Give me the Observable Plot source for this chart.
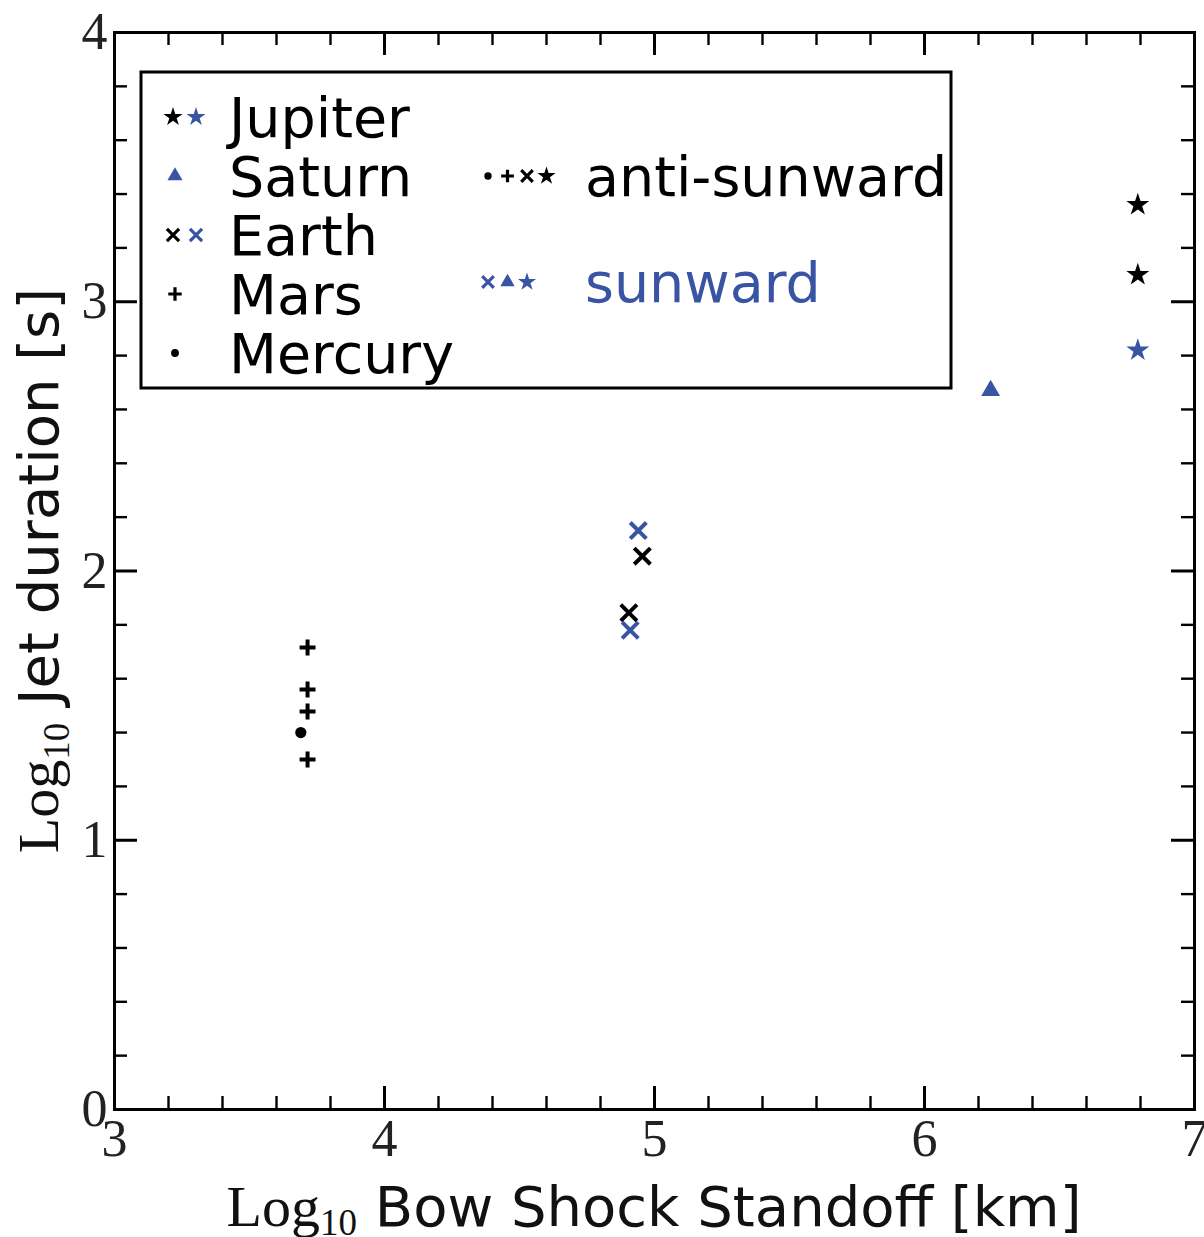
<!DOCTYPE html>
<html>
<head>
<meta charset="utf-8">
<script src="https://cdn.jsdelivr.net/npm/d3@7"></script>
<script src="https://cdn.jsdelivr.net/npm/@observablehq/plot@0.6"></script>
<style>
  html, body { margin: 0; padding: 0; background: #fff; }
  #chart svg { display: block; }
</style>
</head>
<body>
<div id="chart"></div>
<script>
// ---- data ----
const planets   = ["Jupiter","Jupiter","Jupiter","Saturn","Earth","Earth","Earth","Earth","Mars","Mars","Mars","Mars","Mercury"];
const standoff  = [6.79, 6.79, 6.79, 6.245, 4.94, 4.955, 4.905, 4.91, 3.715, 3.715, 3.715, 3.715, 3.69];
const duration  = [3.36, 3.10, 2.82, 2.67, 2.15, 2.055, 1.845, 1.78, 1.716, 1.56, 1.478, 1.30, 1.40];
const direction = ["anti","anti","sun","sun","sun","anti","anti","sun","anti","anti","anti","anti","anti"];

const xMajor = [3, 4, 5, 6, 7];
const xMinor = [3.2, 3.4, 3.6, 3.8, 4.2, 4.4, 4.6, 4.8, 5.2, 5.4, 5.6, 5.8, 6.2, 6.4, 6.6, 6.8];
const yMajor = [0, 1, 2, 3, 4];
const yMinor = [0.2, 0.4, 0.6, 0.8, 1.2, 1.4, 1.6, 1.8, 2.2, 2.4, 2.6, 2.8, 3.2, 3.4, 3.6, 3.8];

const planetOrder = ["Jupiter", "Saturn", "Earth", "Mars", "Mercury"];
const planetSymbol = {Jupiter: "star", Saturn: "triangle", Earth: "times", Mars: "plus", Mercury: "circle"};
const BLUE = "#3a54a4";
const dirColor = {anti: "#000000", sun: BLUE};

const rows = planets.map((p, i) => ({planet: p, x: standoff[i], y: duration[i], dir: direction[i]}));

// ---- layout ----
const W = 1204, H = 1237;
const mL = 114, mR = 10, mT = 32, mB = 128;
const fw = W - mL - mR, fh = H - mT - mB;
const major = 23, minor = 13;
const serif = "'Liberation Serif', 'DejaVu Serif', serif";
const sans = "'DejaVu Sans', sans-serif";

const sizeFor = {Jupiter: 7.2, Saturn: 7.0, Earth: 7.4, Mars: 5.2, Mercury: 5.6};

const dotMarks = planetOrder.map(p => {
  const sym = planetSymbol[p];
  const stroked = sym === "plus" || sym === "times";
  const data = rows.filter(d => d.planet === p);
  return Plot.dot(data, stroked
    ? {x: "x", y: "y", symbol: () => sym, r: sizeFor[p], stroke: d => dirColor[d.dir], fill: "none", strokeWidth: 4}
    : {x: "x", y: "y", symbol: () => sym, r: sizeFor[p], fill: d => dirColor[d.dir], stroke: "none"});
});

const chart = Plot.plot({
  width: W, height: H,
  marginLeft: mL, marginRight: mR, marginTop: mT, marginBottom: mB,
  x: {domain: [3, 7]},
  y: {domain: [0, 4]},
  symbol: {type: "identity"},
  color: {type: "identity"},
  style: {background: "#fff"},
  marks: [
    // inward ticks, all four sides
    Plot.tickX(xMinor, {x: d => d, insetTop: fh - minor, stroke: "#000", strokeWidth: 2.4}),
    Plot.tickX(xMinor, {x: d => d, insetBottom: fh - minor, stroke: "#000", strokeWidth: 2.4}),
    Plot.tickX(xMajor, {x: d => d, insetTop: fh - major, stroke: "#000", strokeWidth: 3}),
    Plot.tickX(xMajor, {x: d => d, insetBottom: fh - major, stroke: "#000", strokeWidth: 3}),
    Plot.tickY(yMinor, {y: d => d, insetRight: fw - minor, stroke: "#000", strokeWidth: 2.4}),
    Plot.tickY(yMinor, {y: d => d, insetLeft: fw - minor, stroke: "#000", strokeWidth: 2.4}),
    Plot.tickY(yMajor, {y: d => d, insetRight: fw - major, stroke: "#000", strokeWidth: 3}),
    Plot.tickY(yMajor, {y: d => d, insetLeft: fw - major, stroke: "#000", strokeWidth: 3}),
    Plot.frame({stroke: "#000", strokeWidth: 3}),
    Plot.axisX({ticks: xMajor, tickFormat: d3.format("d"), tickSize: 0, tickPadding: 10, label: null, fontSize: 52, fontFamily: serif, fill: "#222"}),
    Plot.axisY({ticks: yMajor, tickFormat: d3.format("d"), tickSize: 0, tickPadding: 7, label: null, fontSize: 52, fontFamily: serif, fill: "#222"}),
    ...dotMarks
  ]
});

document.getElementById("chart").appendChild(chart);

// ---- axis labels with mixed fonts ----
const svg = d3.select(chart);
const xs = chart.scale("x"), ys = chart.scale("y");
const cx = (xs.range[0] + xs.range[1]) / 2;
const cy = (ys.range[0] + ys.range[1]) / 2;

const xl = svg.append("text")
  .attr("x", cx).attr("y", H - 11)
  .attr("text-anchor", "middle").attr("fill", "#111");
xl.append("tspan").attr("font-family", serif).attr("font-size", 58).text("Log");
xl.append("tspan").attr("font-family", serif).attr("font-size", 37).attr("dy", 9).text("10");
xl.append("tspan").attr("font-family", sans).attr("font-size", 56).attr("dy", -9).text(" Bow Shock Standoff [km]");

const yl = svg.append("text")
  .attr("transform", `translate(${mL - 56},${cy}) rotate(-90)`)
  .attr("text-anchor", "middle").attr("fill", "#111");
yl.append("tspan").attr("font-family", serif).attr("font-size", 58).text("Log");
yl.append("tspan").attr("font-family", serif).attr("font-size", 37).attr("dy", 11).text("10");
yl.append("tspan").attr("font-family", sans).attr("font-size", 56).attr("dy", -11).text(" Jet duration [s]");

// ---- legend ----
const lg = svg.append("g").attr("text-anchor", "start");
const bx = mL + 27, by = mT + 40;
lg.append("rect").attr("x", bx).attr("y", by).attr("width", 810).attr("height", 316)
  .attr("fill", "#fff").attr("stroke", "#000").attr("stroke-width", 3);

const d3sym = {star: d3.symbolStar, triangle: d3.symbolTriangle, times: d3.symbolTimes, plus: d3.symbolPlus, circle: d3.symbolCircle};
function legendSymbol(g, sym, color, x, y, r) {
  const stroked = sym === "plus" || sym === "times";
  g.append("path")
    .attr("d", d3.symbol(d3sym[sym], Math.PI * r * r)())
    .attr("transform", `translate(${x},${y})`)
    .attr("fill", stroked ? "none" : color)
    .attr("stroke", stroked ? color : "none")
    .attr("stroke-width", stroked ? 3.2 : 0);
}

const legendRows = [
  {label: "Jupiter", syms: [["star", "#000"], ["star", BLUE]]},
  {label: "Saturn",  syms: [["triangle", BLUE]]},
  {label: "Earth",   syms: [["times", "#000"], ["times", BLUE]]},
  {label: "Mars",    syms: [["plus", "#000"]]},
  {label: "Mercury", syms: [["circle", "#000"]]}
];
const legendR = {star: 6.0, triangle: 5.6, times: 5.6, plus: 4.4, circle: 3.9};
legendRows.forEach((row, i) => {
  const y = by + 45 + i * 59;
  if (row.syms.length === 2) {
    row.syms.forEach(([s, c], j) => legendSymbol(lg, s, c, bx + 32 + j * 23, y, legendR[s]));
  } else {
    legendSymbol(lg, row.syms[0][0], row.syms[0][1], bx + 34, y, legendR[row.syms[0][0]]);
  }
  lg.append("text").attr("x", bx + 88).attr("y", y).attr("dy", "0.36em")
    .attr("text-anchor", "start")
    .attr("font-family", sans).attr("font-size", 55.5).attr("fill", "#000").text(row.label);
});

const dirRows = [
  {label: "anti-sunward", color: "#000", syms: [["circle", "#000"], ["plus", "#000"], ["times", "#000"], ["star", "#000"]], y: by + 104},
  {label: "sunward", color: BLUE, syms: [["times", BLUE], ["triangle", BLUE], ["star", BLUE]], y: by + 210}
];
dirRows.forEach(row => {
  row.syms.forEach(([s, c], j) => legendSymbol(lg, s, c, bx + 347 + j * 19.5, row.y, legendR[s] * 0.95));
  lg.append("text").attr("x", bx + 444).attr("y", row.y).attr("dy", "0.36em")
    .attr("text-anchor", "start")
    .attr("font-family", sans).attr("font-size", 55.5).attr("fill", row.color).text(row.label);
});
</script>
</body>
</html>
